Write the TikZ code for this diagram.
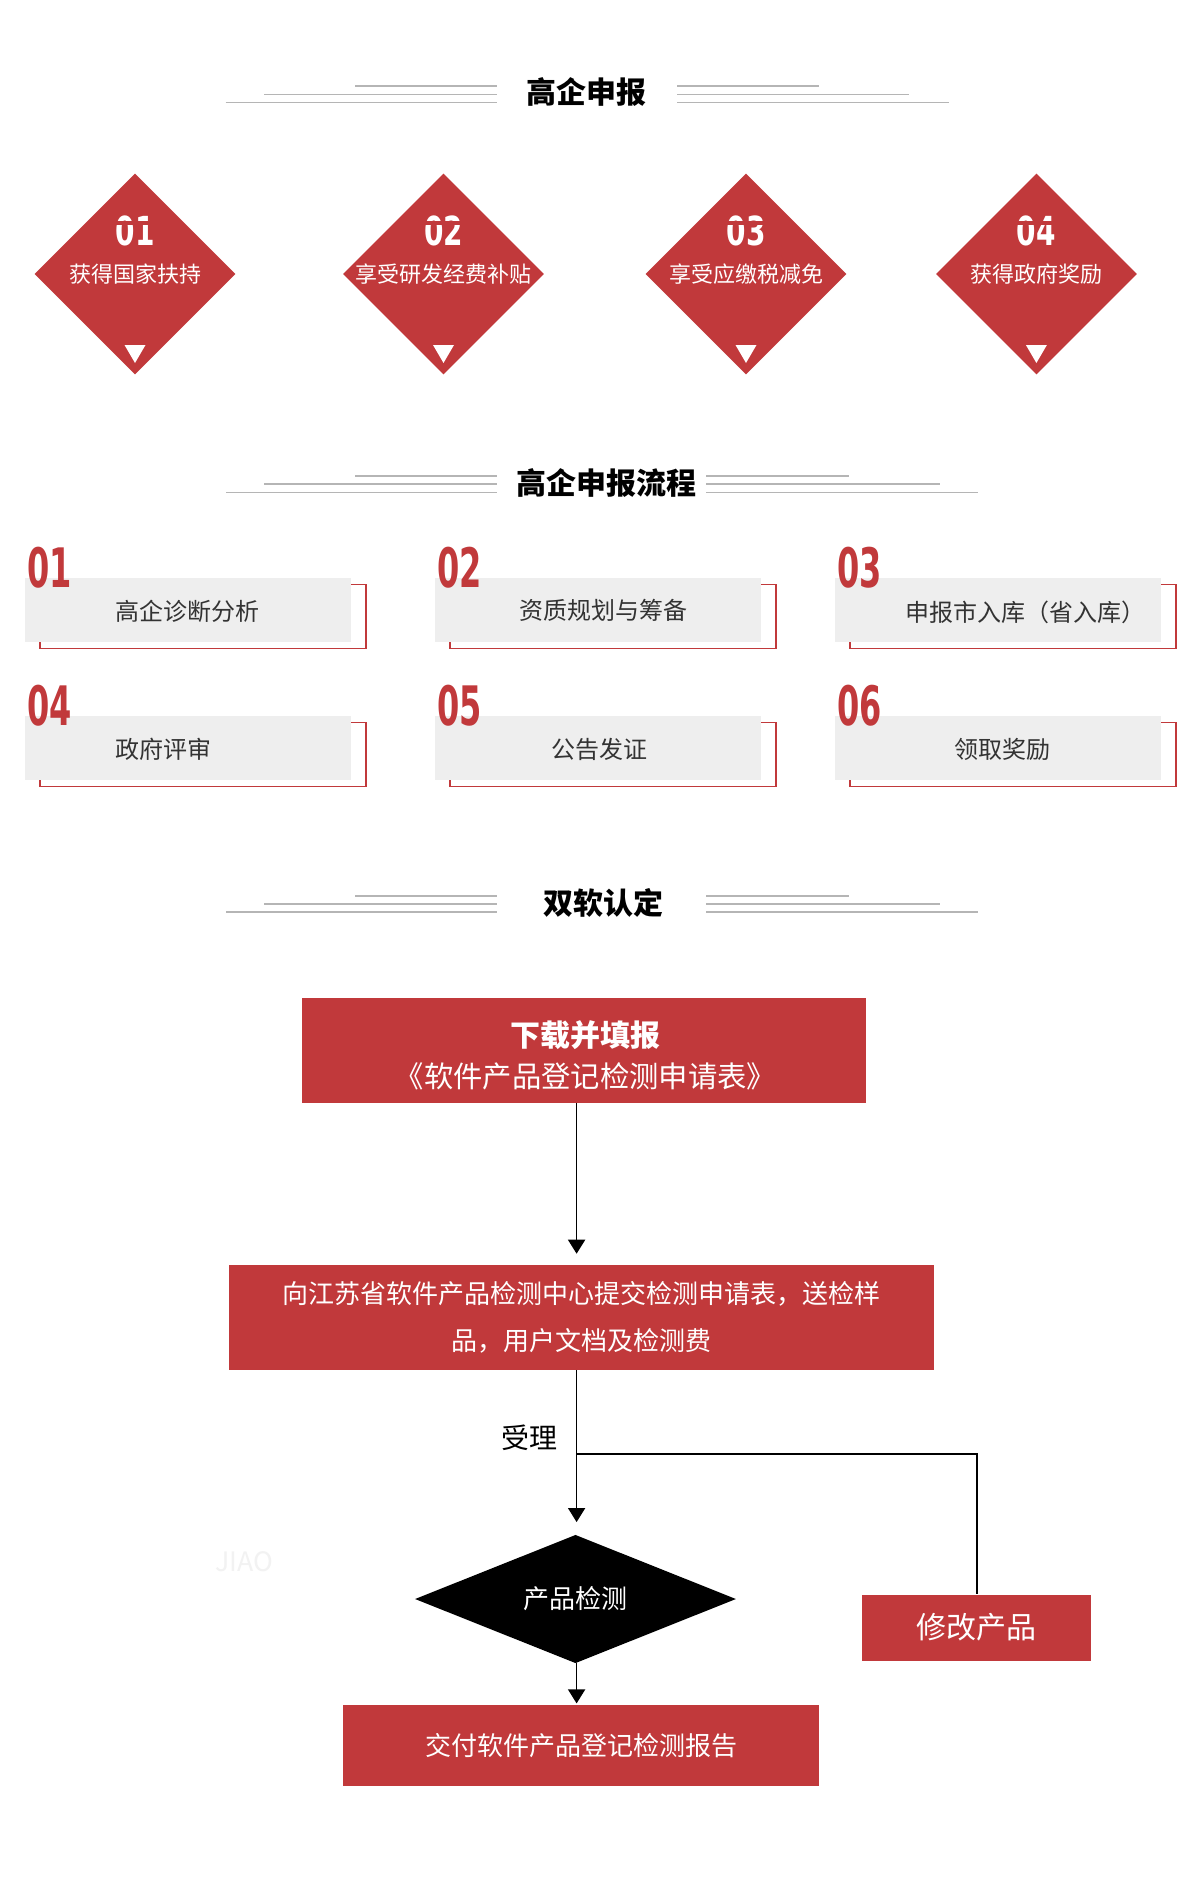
\documentclass[tikz,border=0pt]{standalone}
\usepackage{fontspec}
\setmainfont{Noto Sans CJK SC}
\newfontfamily\numfont{DejaVu Sans}
\usetikzlibrary{shapes.geometric,arrows.meta,calc}
\definecolor{brand}{HTML}{C1393B}
\definecolor{boxgray}{HTML}{EEEEEE}
\definecolor{rulegray}{HTML}{B5B5B5}
\definecolor{txtgray}{HTML}{333333}
\tikzset{
  titletext/.style={font=\bfseries\fontsize{22.5pt}{27pt}\selectfont, inner sep=0},
  rule/.style={rulegray, line width=1pt},
  award/.style={diamond, fill=brand, minimum width=201*0.75pt, minimum height=201*0.75pt, inner sep=0},
  awardtext/.style={text=white, font=\fontsize{16.5pt}{20pt}\selectfont, inner sep=0},
  awardnum/.style={text=white, font=\numfont\bfseries\fontsize{30pt}{30pt}\selectfont, inner sep=0, anchor=base},
  stepbox/.style={fill=boxgray, minimum width=326*0.75pt, minimum height=64*0.75pt, inner sep=0},
  stepframe/.style={draw=brand, line width=1pt, minimum width=326*0.75pt, minimum height=64*0.75pt, inner sep=0},
  stepnum/.style={text=brand, font=\numfont\bfseries\fontsize{40pt}{40pt}\selectfont, inner sep=0, anchor=base west},
  steptext/.style={text=txtgray, font=\fontsize{18pt}{22pt}\selectfont, inner sep=0},
  flowbox/.style={fill=brand, text=white, inner sep=0, align=center},
  flowline/.style={line width=1.2pt, black},
  flowarrow/.style={flowline, -{Triangle[width=12.75pt,length=10.5pt]}},
}
\begin{document}
\begin{tikzpicture}[x=0.75pt,y=-0.75pt]
\fill[white] (0,0) rectangle (1200,1880);
\useasboundingbox (0,0) rectangle (1200,1880);

% ---------- Title 1 ----------
\node[titletext] (t1) at (586,92.5) {高企申报};
\draw[rule] (355,86) -- (497,86);
\draw[rule] (264,94.3) -- (497,94.3);
\draw[rule] (225.6,102.3) -- (497,102.3);
\draw[rule] (677,86) -- (819,86);
\draw[rule] (677,94.3) -- (909,94.3);
\draw[rule] (677,102.3) -- (948.7,102.3);

% ---------- Award diamonds ----------
\foreach \x/\n/\t/\i in {135/01/获得国家扶持/a, 443.5/02/享受研发经费补贴/b, 746/03/享受应缴税减免/c, 1036.4/04/获得政府奖励/d}{
  \node[award] (aw\i) at (\x,274) {};
  \node[awardnum] (awn\i) at (\x,245) {\scalebox{0.7}[1]{\n}};
  \fill[brand] (\x-24,220.5) rectangle (\x+24,225);
  \node[awardtext] (awt\i) at (\x,274) {\t};
  \fill[white] (\x-10.5,345) -- (\x+10.5,345) -- (\x,363) -- cycle;
}

% ---------- Title 2 ----------
\node[titletext] (t2) at (606,483.5) {高企申报流程};
\draw[rule] (355,476) -- (497,476);
\draw[rule] (264,484) -- (497,484);
\draw[rule] (226,492.3) -- (497,492.3);
\draw[rule] (706,476) -- (849,476);
\draw[rule] (706,484) -- (940,484);
\draw[rule] (706,492.3) -- (978,492.3);

% ---------- Steps ----------
\foreach \x/\y/\i in {188/610/1, 598/610/2, 998/610/3, 188/748/4, 598/748/5, 998/748/6}{
  \node[stepframe] (sf\i) at (\x+15,\y+6.5) {};
  \node[stepbox] (s\i) at (\x,\y) {};
}
\node[stepnum] (n1) at (27,587) {\scalebox{0.6}[1.02]{01}};
\node[stepnum] (n2) at (437,587) {\scalebox{0.6}[1.02]{02}};
\node[stepnum] (n3) at (837,587) {\scalebox{0.6}[1.02]{03}};
\node[stepnum] (n4) at (27,725) {\scalebox{0.6}[1.02]{04}};
\node[stepnum] (n5) at (437,725) {\scalebox{0.6}[1.02]{05}};
\node[stepnum] (n6) at (837,725) {\scalebox{0.6}[1.02]{06}};
\node[steptext, anchor=west] (l1) at (115,611) {高企诊断分析};
\node[steptext] (l2) at (603,610) {资质规划与筹备};
\node[steptext, anchor=west] (l3) at (905,612) {申报市入库（省入库）};
\node[steptext, anchor=west] (l4) at (115,749) {政府评审};
\node[steptext] (l5) at (599,749) {公告发证};
\node[steptext] (l6) at (1002.5,749) {领取奖励};

% ---------- Title 3 ----------
\node[titletext] (t3) at (603,903) {双软认定};
\draw[rule] (355,896) -- (497,896);
\draw[rule] (264,904) -- (497,904);
\draw[rule] (226,912) -- (497,912);
\draw[rule] (706,896) -- (849,896);
\draw[rule] (706,904) -- (940,904);
\draw[rule] (706,912) -- (978,912);

% ---------- Flow ----------
\coordinate (spine) at (576.6,0);
\node[flowbox, minimum width=564*0.75pt, minimum height=105*0.75pt] (A) at (583.5,1050.2) {};
\node[inner sep=0, text=white, align=center, font=\fontsize{22pt}{30.75pt}\selectfont]
  (Atext) at ($(A.center)+(2,5)$)
  {{\bfseries\fontsize{22.5pt}{30.75pt}\selectfont 下载并填报}\\《软件产品登记检测申请表》};
\node[flowbox, minimum width=705*0.75pt, minimum height=105*0.75pt,
      font=\fontsize{19.5pt}{35.25pt}\selectfont] (B) at (581.5,1317.5)
  {向江苏省软件产品检测中心提交检测申请表，送检样\\品，用户文档及检测费};
\node[diamond, fill=black, text=white, minimum width=321*0.75pt, minimum height=122*0.75pt,
      inner sep=0, font=\fontsize{19.5pt}{22pt}\selectfont] (D) at (575.5,1599) {产品检测};
\node[flowbox, minimum width=229.5*0.75pt, minimum height=66*0.75pt,
      font=\fontsize{22.5pt}{26pt}\selectfont] (M) at (976.7,1627.6) {修改产品};
\node[flowbox, minimum width=476*0.75pt, minimum height=81*0.75pt,
      font=\fontsize{19.5pt}{22pt}\selectfont] (R) at (581,1745.5) {交付软件产品登记检测报告};

\draw[flowarrow, shorten >=8.25pt] (A.south -| spine) -- (B.north -| spine);
\draw[flowarrow, shorten >=9.4pt] (B.south -| spine) -- (D.north -| spine);
\coordinate (br) at (576.6,1453.6);
\draw[line width=1.5pt] (br) -| (M.north);
\draw[flowarrow, shorten >=1pt] (D.south -| spine) -- (R.north -| spine);
\node[inner sep=0, font=\fontsize{21pt}{24pt}\selectfont] (lab) at (529,1438) {受理};

% faint watermark
\node[inner sep=0, text=black!5, font=\fontsize{20pt}{22pt}\selectfont] (wm) at (244,1562) {JIAO};
\end{tikzpicture}
\end{document}
